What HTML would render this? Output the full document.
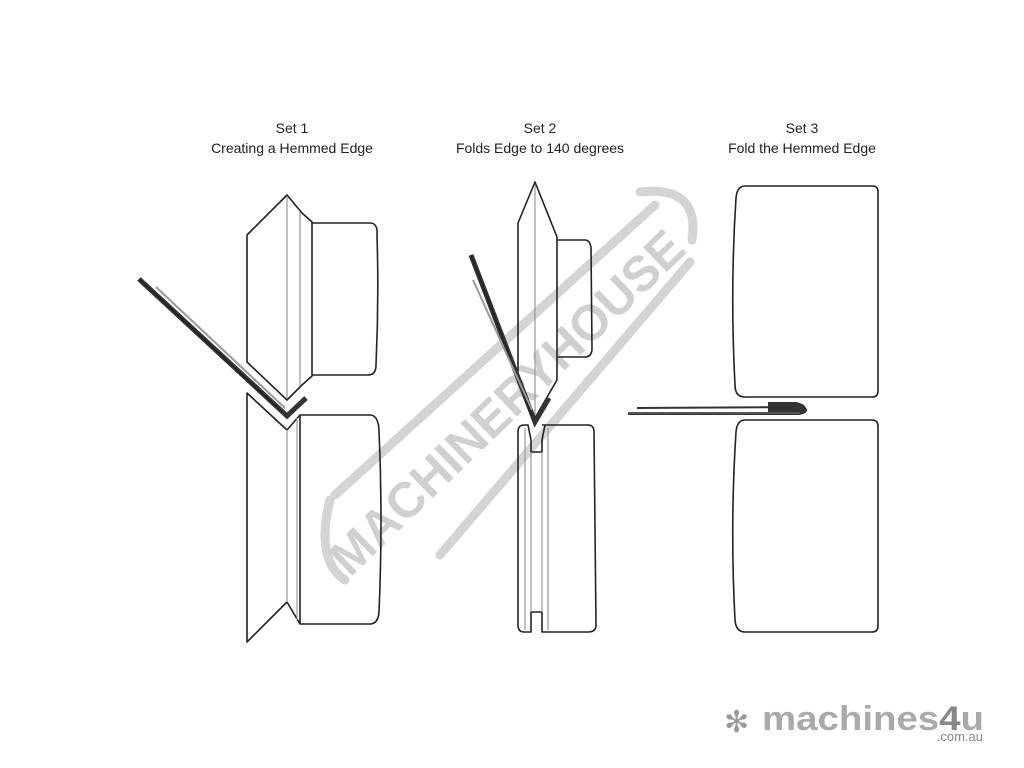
<!DOCTYPE html>
<html><head><meta charset="utf-8"><style>
html,body{margin:0;padding:0;background:#fff;}
svg{display:block;}
text{font-family:"Liberation Sans",Arial,sans-serif;}
</style></head><body>
<svg width="1024" height="768" viewBox="0 0 1024 768" xmlns="http://www.w3.org/2000/svg">
<rect width="1024" height="768" fill="#fff"/>
<!-- watermark -->
<g fill="none" stroke="#d4d4d4" stroke-width="9" stroke-linecap="round">
  <path d="M335 495 L655 205"/>
  <path d="M440 555 L690 262"/>
  <path d="M640 192 Q700 185 692 240"/>
  <path d="M330 500 Q315 560 345 580"/>
</g>
<text x="0" y="0" transform="translate(350,578) rotate(-44)" font-size="50" font-weight="bold" fill="#d0d0d0" textLength="470" lengthAdjust="spacingAndGlyphs">MACHINERYHOUSE</text>

<!-- titles -->
<g font-size="14" fill="#222" text-anchor="middle">
<text x="292" y="133">Set 1</text>
<text x="292" y="153">Creating a Hemmed Edge</text>
<text x="540" y="133">Set 2</text>
<text x="540" y="153">Folds Edge to 140 degrees</text>
<text x="802" y="133">Set 3</text>
<text x="802" y="153">Fold the Hemmed Edge</text>
</g>

<g fill="none" stroke="#222" stroke-width="1.6" stroke-linejoin="round">
<path d="M312 223 L370 223 Q378 223 377 235 Q379 300 376 365 Q376 375 368 375 L312 375"/>
<path d="M247 235 L287 195 L302 213 L312 222 L312 376 L302 385 L287 400 L247 362 Z"/>
<path d="M300 415 L370 415 Q378 415 379 430 Q383 520 379 612 Q378 624 370 624 L300 624"/>
<path d="M247 393 L287 430 L300 415 L300 624 L287 602 L247 642 Z"/>
<path d="M557 240 L585 240 Q590 240 591 248 L592 350 Q591 357 585 357 L557 357"/>
<path d="M535 182 L557 237 L557 380 L535 418 L518 383 L518 223 Z"/>
<path d="M542 425 L588 425 Q594 425 594 432 L596 625 Q596 632 588 632 L542 632 L542 612 L531 612 L531 632 L524 632 Q518 632 518 625 L518 432 Q518 425 524 425 L528 425 L531 440 L531 452 L542 452 L542 440 L545 425"/>
<path d="M745 186 L873 186 Q878 186 878 192 L878 391 Q878 397 872 397 L745 397 Q735 397 735 385 Q730 290 736 198 Q737 186 745 186 Z"/>
<path d="M745 420 L872 420 Q878 420 878 426 L878 626 Q878 632 872 632 L745 632 Q736 632 735 620 Q730 525 736 432 Q737 420 745 420 Z"/>
</g>
<g stroke="#999" stroke-width="1.2">
<line x1="287" y1="197" x2="287" y2="398"/>
<line x1="300" y1="212" x2="300" y2="386"/>
<line x1="287" y1="430" x2="287" y2="602"/>
<line x1="297" y1="418" x2="297" y2="620"/>
<line x1="535" y1="185" x2="535" y2="415"/>
<line x1="525" y1="428" x2="525" y2="630"/>
<line x1="531" y1="452" x2="531" y2="612"/>
<line x1="542" y1="452" x2="542" y2="612"/>
<line x1="548" y1="428" x2="548" y2="630"/>
</g>
<g fill="none" stroke-linejoin="miter">
<path d="M139 279 L287 416 L306 398" stroke="#333" stroke-width="5"/>
<path d="M139 279 L282 412" stroke="#222" stroke-width="1.5"/>
<path d="M156 287 L285 408" stroke="#999" stroke-width="2"/>
<path d="M471 255 L535 422 L549 398" stroke="#333" stroke-width="5"/>
<path d="M471 255 L532 416" stroke="#222" stroke-width="1.5"/>
<path d="M473 280 L532 410" stroke="#999" stroke-width="2"/>
</g>
<path d="M637 408 L798 407 Q806 407 806 410 Q806 413 798 414 L628 414" fill="none" stroke="#333" stroke-width="2"/>
<path d="M768 402 L796 402 Q806 404 806 409 Q806 415 796 415 L768 415 Z" fill="#333"/>
<line x1="628" y1="413" x2="800" y2="413" stroke="#555" stroke-width="2"/>

<!-- logo -->
<text x="724" y="732" font-size="30" fill="#999">✻</text>
<text x="762" y="730" font-size="34" font-weight="bold" fill="#aaa" textLength="222" lengthAdjust="spacingAndGlyphs">machines<tspan fill="#888">4</tspan>u</text>
<text x="983" y="741" font-size="13" fill="#888" text-anchor="end">.com.au</text>
</svg>
</body></html>
